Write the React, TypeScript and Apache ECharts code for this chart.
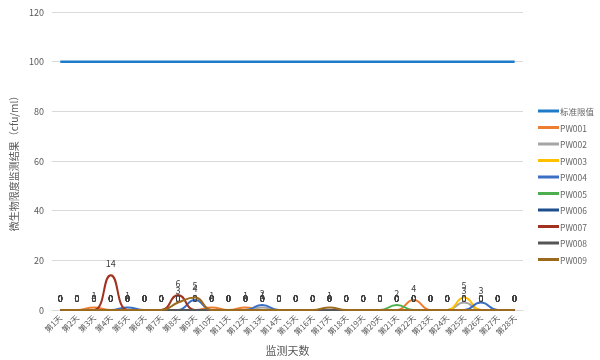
import React, { useEffect, useRef } from "react";
import * as echarts from "echarts";

const days = Array.from({ length: 28 }, (_, i) => `第${i + 1}天`);
const yTicks = [0, 20, 40, 60, 80, 100, 120];

const limitValues = [100,100,100,100,100,100,100,100,100,100,100,100,100,100,100,100,100,100,100,100,100,100,100,100,100,100,100,100];
const pw001 = [0,0,1,0,0,0,0,0,0,1,0,1,0,0,0,0,0,0,0,0,0,4,0,0,0,0,0,0];
const pw002 = [0,0,0,0,0,0,0,0,0,0,0,0,1,0,0,0,0,0,0,0,0,0,0,0,3,0,0,0];
const pw003 = [0,0,0,0,0,0,0,0,0,0,0,0,0,0,0,0,0,0,0,0,0,0,0,0,5,0,0,0];
const pw004 = [0,0,0,0,1,0,0,0,4,0,0,0,2,0,0,0,0,0,0,0,0,0,0,0,0,3,0,0];
const pw005 = [0,0,0,0,0,0,0,0,0,0,0,0,0,0,0,0,0,0,0,0,2,0,0,0,0,0,0,0];
const pw006 = [0,0,0,0,0,0,0,0,0,0,0,0,0,0,0,0,0,0,0,0,0,0,0,0,0,0,0,0];
const pw007 = [0,0,0,14,0,0,0,6,0,0,0,0,0,0,0,0,0,0,0,0,0,0,0,0,0,0,0,0];
const pw008 = [0,0,0,0,0,0,0,0,0,0,0,0,0,0,0,0,0,0,0,0,0,0,0,0,0,0,0,0];
const pw009 = [0,0,0,0,0,0,0,3,5,0,0,0,0,0,0,0,1,0,0,0,0,0,0,0,0,0,0,0];

const seriesNames = ["标准限值", "PW001", "PW002", "PW003", "PW004", "PW005", "PW006", "PW007", "PW008", "PW009"];
const seriesData = [limitValues, pw001, pw002, pw003, pw004, pw005, pw006, pw007, pw008, pw009];
const colors = ["#1f7bc8", "#ED7D31", "#A5A5A5", "#FFC000", "#3a6fc4", "#4cae4c", "#1f4e8c", "#a0321f", "#555555", "#9c6a1f"];

export default function App() {
  const ref = useRef<HTMLDivElement>(null);
  useEffect(() => {
    if (!ref.current) return;
    const chart = echarts.init(ref.current, undefined, { renderer: "svg" });
    const font = "'Microsoft YaHei', 'Noto Sans CJK SC', 'Noto Sans', sans-serif";
    chart.setOption({
      animation: false,
      textStyle: { fontFamily: font },
      grid: { left: 43, right: 77, top: 12, bottom: 49 },
      legend: {
        orient: "vertical",
        left: 538,
        top: 105,
        padding: 0,
        itemWidth: 21,
        itemHeight: 3,
        itemGap: 4.5,
        icon: "rect",
        textStyle: { fontSize: 8.5, color: "#666666", fontFamily: font, padding: [0, 0, 0, -4], lineHeight: 12 },
        data: seriesNames,
      },
      xAxis: {
        type: "category",
        data: days,
        boundaryGap: true,
        name: "监测天数",
        nameLocation: "middle",
        nameGap: 34,
        nameTextStyle: { fontSize: 11, color: "#595959" },
        axisLine: { lineStyle: { color: "#d9d9d9" } },
        axisTick: { show: false },
        axisLabel: { rotate: 45, fontSize: 8, color: "#595959", interval: 0, margin: 6 },
      },
      yAxis: {
        type: "value",
        min: yTicks[0],
        max: yTicks[yTicks.length - 1],
        interval: 20,
        name: "微生物限度监测结果（cfu/ml）",
        nameLocation: "middle",
        nameGap: 26,
        nameTextStyle: { fontSize: 10, color: "#595959" },
        axisLine: { show: false },
        axisTick: { show: false },
        axisLabel: { fontSize: 9, color: "#595959", margin: 8 },
        splitLine: { lineStyle: { color: "#d9d9d9" } },
      },
      series: seriesData.map((d, i) => ({
        name: seriesNames[i],
        type: "line",
        data: d,
        smooth: i === 0 ? false : 0.5,
        symbol: "circle",
        symbolSize: 0.5,
        showSymbol: true,
        itemStyle: { color: colors[i] },
        lineStyle: { color: colors[i], width: i === 0 ? 2.5 : 2 },
        label: {
          show: i !== 0,
          position: "top",
          distance: 7,
          fontSize: 9,
          color: "#404040",
        },
        z: i === 0 ? 2 : 3 + i,
      })),
    });
    return () => chart.dispose();
  }, []);
  return <div ref={ref} style={{ width: 600, height: 360, position: "fixed", left: 0, top: 0 }} />;
}
